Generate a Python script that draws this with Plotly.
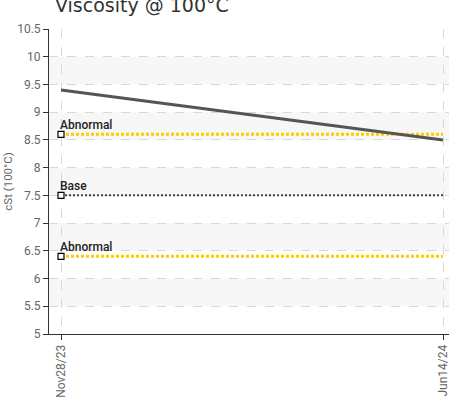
import plotly.graph_objects as go

# ---- data ----
dates = ["2023-11-28", "2024-06-14"]
date_labels = ["Nov28/23", "Jun14/24"]
viscosity = [9.4, 8.5]

abnormal_high = 8.6
base_value = 7.5
abnormal_low = 6.4

y_ticks = [5, 5.5, 6, 6.5, 7, 7.5, 8, 8.5, 9, 9.5, 10, 10.5]
y_tick_labels = ["5", "5.5", "6", "6.5", "7", "7.5", "8", "8.5", "9", "9.5", "10", "10.5"]

title_text = "Viscosity @ 100°C"
y_title = "cSt (100°C)"

ref_lines = [
    ("Abnormal", abnormal_high, "#FFCC00", 3, "3px,2px"),
    ("Base", base_value, "#444444", 2, "2px,2px"),
    ("Abnormal", abnormal_low, "#FFCC00", 3, "3px,2px"),
]

narrow = "Roboto, Liberation Sans Narrow, sans-serif"

fig = go.Figure()

# reference lines
for name, val, col, w, dash in ref_lines:
    fig.add_trace(go.Scatter(
        x=dates, y=[val, val], mode="lines",
        line=dict(color=col, width=w, dash=dash),
        hoverinfo="skip", showlegend=False,
    ))

# data series
fig.add_trace(go.Scatter(
    x=dates, y=viscosity, mode="lines",
    line=dict(color="#555555", width=3),
    showlegend=False,
))

# markers at start of reference lines
for name, val, col, w, dash in ref_lines:
    fig.add_trace(go.Scatter(
        x=[dates[0]], y=[val], mode="markers",
        marker=dict(symbol="square", size=6, color="white",
                    line=dict(color="#000000", width=1.2)),
        hoverinfo="skip", showlegend=False,
    ))
    fig.add_annotation(
        x=dates[0], y=val, xref="x", yref="y", text=name,
        showarrow=False, xanchor="left", yanchor="bottom",
        xshift=-3, yshift=0,
        font=dict(family=narrow, size=12, color="#222222", weight=500),
    )

# alternating bands
shapes = []
for i in range(1, len(y_ticks) - 1, 2):
    shapes.append(dict(
        type="rect", xref="paper", yref="y", x0=0, x1=1,
        y0=y_ticks[i], y1=y_ticks[i + 1],
        fillcolor="#F7F7F7", line=dict(width=0), layer="below",
    ))

fig.update_layout(
    width=449, height=410,
    margin=dict(l=49, r=0, t=29, b=76),
    paper_bgcolor="white", plot_bgcolor="white",
    shapes=shapes,
    title=dict(text=title_text, x=55 / 449, xanchor="left",
               y=1 - 5.5 / 410, yanchor="middle",
               font=dict(family="DejaVu Sans, Verdana, sans-serif",
                         size=19, color="#333333")),
    xaxis=dict(
        type="date",
        range=["2023-11-21 18:00", "2024-06-17 03:00"],
        tickvals=dates, ticktext=date_labels, tickangle=-90,
        ticklabeloverflow="allow",
        showgrid=True, gridcolor="#D8D8D8", griddash="dash", gridwidth=1,
        showline=True, linecolor="#333333", linewidth=1,
        ticks="outside", ticklen=5, tickcolor="#333333",
        tickfont=dict(family=narrow, size=12, color="#666666"),
        zeroline=False, fixedrange=True,
    ),
    yaxis=dict(
        range=[5, 10.5],
        tickvals=y_ticks, ticktext=y_tick_labels,
        showgrid=True, gridcolor="#D8D8D8", griddash="dash", gridwidth=1,
        showline=True, linecolor="#333333", linewidth=1,
        ticks="outside", ticklen=5, tickcolor="#333333",
        tickfont=dict(family=narrow, size=12, color="#666666"),
        title=dict(text=y_title, standoff=2,
                   font=dict(family=narrow, size=11.5, color="#666666")),
        zeroline=False, fixedrange=True,
    ),
)

fig.write_html("out.html",
               config={"displayModeBar": False},
               post_script="document.body.style.margin='0px';document.body.style.padding='0px';")
